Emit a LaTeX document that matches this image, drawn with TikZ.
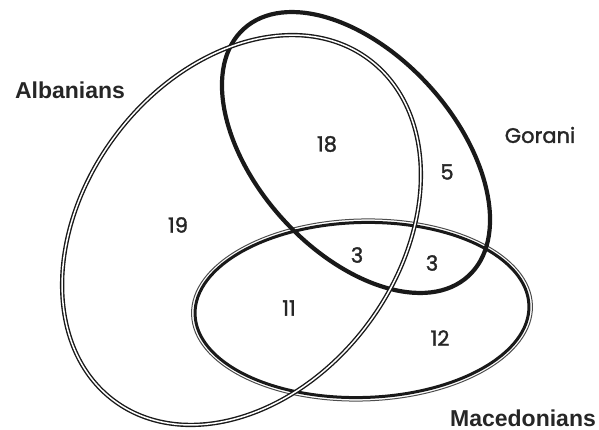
\documentclass[tikz,border=0pt]{standalone}
\usepackage{fontspec}
\setmainfont{Liberation Sans}
\newfontfamily\geo[FakeBold=1.5]{Poppins}
\begin{document}
\begin{tikzpicture}[x=1pt,y=-1pt]
\tikzset{
  albline/.style={draw=black!90, line width=1.4pt, double=white, double distance=1.5pt},
  gorline/.style={draw=black!90, line width=4.2pt},
  macthick/.style={draw=black!90, line width=3pt},
  macthin/.style={draw=black!70, line width=1pt},
  grouplabel/.style={inner sep=0pt, font=\fontsize{23}{27}\selectfont\bfseries, text=black!85},
  gorlabel/.style={inner sep=0pt, font=\geo\fontsize{21}{25}\selectfont, text=black!85},
  count/.style={inner sep=0pt, font=\geo\fontsize{21}{25}\selectfont, text=black!85},
}
\useasboundingbox (0,0) rectangle (599,430);
% Macedonians
\draw[macthin, rotate around={1.5:(362,310)}] (362,310) ellipse [x radius=170.5pt, y radius=91pt];
\draw[macthick, rotate around={1.5:(362,310)}] (362,310) ellipse [x radius=167pt, y radius=87.5pt];
% Gorani
\draw[gorline, rotate around={-47.8:(356,152.5)}] (356,152.5) ellipse [x radius=167pt, y radius=99pt];
% Albanians
\draw[albline, rotate around={53.2:(241.5,230)}] (241.5,230) ellipse [x radius=213pt, y radius=157.5pt];
% labels
\node[grouplabel] (alb) at (70,90) {Albanians};
\node[gorlabel] (gor) at (540,135) {Gorani};
\node[grouplabel] (mac) at (523,418) {Macedonians};
% counts
\node[count] (n18) at (327,144) {18};
\node[count] (n5) at (447,172) {5};
\node[count] (n19) at (178,225) {19};
\node[count] (n3a) at (357,255) {3};
\node[count] (n3b) at (432,263) {3};
\node[count] (n11) at (289,308) {11};
\node[count] (n12) at (440,338) {12};
\end{tikzpicture}
\end{document}
